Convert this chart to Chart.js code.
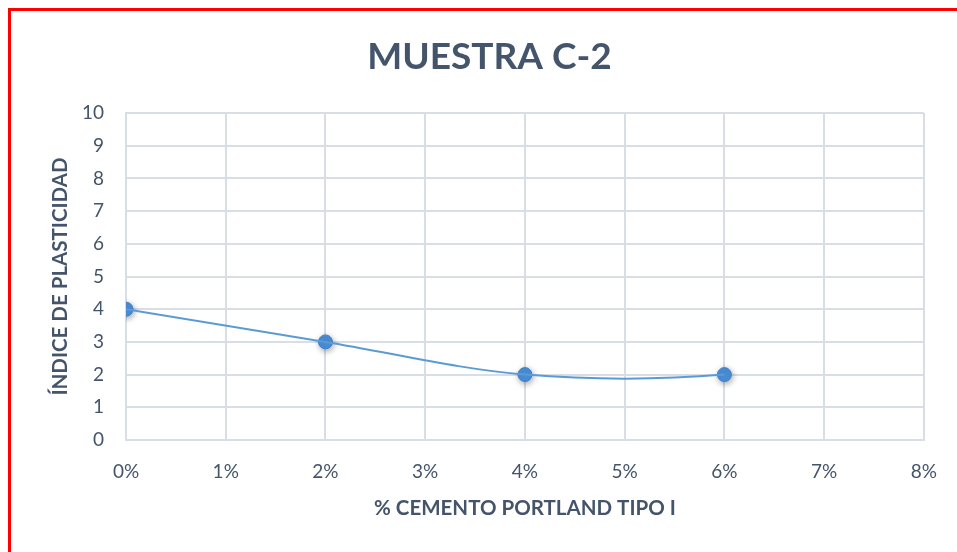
<!DOCTYPE html>
<html>
<head>
<meta charset="utf-8">
<script src="https://cdn.jsdelivr.net/npm/chart.js@4"></script>
<style>
  html, body { margin:0; padding:0; background:#fff; }
  #wrap { position:absolute; left:0; top:0; width:957px; height:552px; }
  #frame { position:absolute; left:8px; top:8px; width:960px; height:560px; border-left:3px solid #ff0000; border-top:3px solid #ff0000; box-sizing:border-box; pointer-events:none; }
</style>
</head>
<body>
<div id="wrap"><canvas id="c" width="957" height="552"></canvas></div>
<div id="frame"></div>
<script>
const titleText = "MUESTRA C-2";
const xAxisTitle = "% CEMENTO PORTLAND TIPO I";
const yAxisTitle = "ÍNDICE DE PLASTICIDAD";
const cementPercent = [0, 2, 4, 6];
const plasticityIndex = [4, 3, 2, 2];
const xTicks = [0, 1, 2, 3, 4, 5, 6, 7, 8];
const yTicks = [0, 1, 2, 3, 4, 5, 6, 7, 8, 9, 10];

const pts = cementPercent.map((x, i) => ({ x: x, y: plasticityIndex[i] }));
const textColor = "#44546a";
const gridColor = "#d9dde5";
const fontFam = "Lato, 'Open Sans', sans-serif";

// Excel-like smoothing: Catmull-Rom tangents inside, reflected tangents at the ends
const smoothPlugin = {
  id: 'excelSmooth',
  beforeDatasetDraw(chart, args) {
    if (args.index !== 0) return;
    const meta = chart.getDatasetMeta(0);
    const p = meta.data;
    const n = p.length;
    if (n < 3) return;
    const m = new Array(n);
    for (let i = 1; i < n - 1; i++) {
      m[i] = { x: (p[i + 1].x - p[i - 1].x) / 2, y: (p[i + 1].y - p[i - 1].y) / 2 };
    }
    m[0] = { x: 2 * (p[1].x - p[0].x) - m[1].x, y: 2 * (p[1].y - p[0].y) - m[1].y };
    m[n - 1] = { x: 2 * (p[n - 1].x - p[n - 2].x) - m[n - 2].x, y: 2 * (p[n - 1].y - p[n - 2].y) - m[n - 2].y };
    for (let i = 0; i < n; i++) {
      p[i].cp1x = p[i].x - m[i].x / 3; p[i].cp1y = p[i].y - m[i].y / 3;
      p[i].cp2x = p[i].x + m[i].x / 3; p[i].cp2y = p[i].y + m[i].y / 3;
    }
    meta.dataset._pointsUpdated = true;
  }
};

const shadowPlugin = {
  id: 'shadow',
  beforeDatasetDraw(chart, args) {
    if (args.index === 1) {
      const ctx = chart.ctx;
      ctx.save();
      ctx.shadowColor = 'rgba(0,0,0,0.35)';
      ctx.shadowBlur = 6;
      ctx.shadowOffsetX = 1;
      ctx.shadowOffsetY = 2;
    }
  },
  afterDatasetDraw(chart, args) {
    if (args.index === 1) chart.ctx.restore();
  }
};

const titlePlugin = {
  id: 'mainTitle',
  afterDraw(chart) {
    const ctx = chart.ctx;
    ctx.save();
    ctx.font = "bold 37px " + fontFam;
    ctx.fillStyle = textColor;
    ctx.textAlign = 'center';
    ctx.textBaseline = 'alphabetic';
    ctx.fillText(titleText, 489.5, 69);
    ctx.restore();
  }
};

new Chart(document.getElementById('c'), {
  type: 'scatter',
  data: {
    datasets: [
      { data: pts, showLine: true, borderColor: '#5b9bd5', borderWidth: 2, tension: 0.4, pointRadius: 0, fill: false },
      { data: pts, showLine: false, pointRadius: 7, pointBackgroundColor: '#4a8fd8', pointBorderColor: '#3f82cc', pointBorderWidth: 1 }
    ]
  },
  options: {
    responsive: false,
    animation: false,
    events: [],
    layout: { padding: { left: 12, right: 31, top: 113, bottom: 0 } },
    plugins: {
      legend: { display: false },
      tooltip: { enabled: false },
      title: { display: false }
    },
    scales: {
      x: {
        type: 'linear', min: 0, max: 8,
        afterBuildTicks: (s) => { s.ticks = xTicks.map(v => ({ value: v })); },
        afterFit: (s) => { s.height = 112; },
        grid: { color: gridColor, lineWidth: 2, drawTicks: false },
        border: { color: gridColor, width: 2 },
        ticks: { color: textColor, padding: 20, font: { family: fontFam, size: 19 }, callback: (v) => v + '%' },
        title: { display: true, text: xAxisTitle, color: textColor, padding: { top: 0, bottom: 31 }, font: { family: fontFam, size: 20.5, weight: 'bold', lineHeight: 1.2 } }
      },
      y: {
        type: 'linear', min: 0, max: 10,
        afterBuildTicks: (s) => { s.ticks = yTicks.map(v => ({ value: v })); },
        afterFit: (s) => { s.width = 114; },
        grid: { color: gridColor, lineWidth: 2, drawTicks: false },
        border: { color: gridColor, width: 2 },
        ticks: { color: textColor, padding: 22, font: { family: fontFam, size: 19 } },
        title: { display: true, text: yAxisTitle, color: textColor, padding: { top: 36, bottom: 0 }, font: { family: fontFam, size: 20.5, weight: 'bold', lineHeight: 1.2 } }
      }
    }
  },
  plugins: [smoothPlugin, shadowPlugin, titlePlugin]
});
</script>
</body>
</html>
